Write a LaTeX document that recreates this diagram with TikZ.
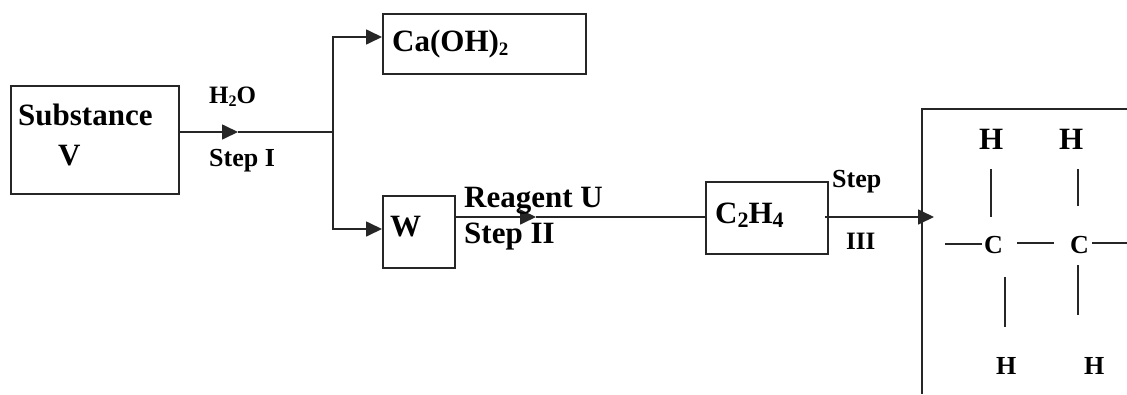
\documentclass[tikz,border=0pt]{standalone}
\usepackage{fontspec}
\setmainfont{Liberation Serif}
\usetikzlibrary{arrows.meta}
\tikzset{
 boxn/.style={draw=black!85,line width=1.7pt,inner sep=0pt,anchor=north west},
 lab/.style={inner sep=0pt,anchor=base west,font=\bfseries},
 big/.style={lab,font=\fontsize{31}{34}\selectfont\bfseries},
 mid/.style={lab,font=\fontsize{25}{28}\selectfont\bfseries},
 sm/.style={lab,font=\fontsize{26}{28}\selectfont\bfseries},
 wire/.style={line width=1.7pt,draw=black!85},
 arr/.style={wire,-{Triangle[length=16pt,width=15pt]},shorten >=0pt},
 bond/.style={line width=1.4pt,draw=black!85}
}
\begin{document}
\begin{tikzpicture}[x=1pt,y=-1pt]
\useasboundingbox (0,0) rectangle (1127,394);
\node[boxn,minimum width=168pt,minimum height=108pt] (V) at (10,85) {};
\node[boxn,minimum width=203pt,minimum height=60pt] (Ca) at (382,13) {};
\node[boxn,minimum width=72pt,minimum height=72pt] (W) at (382,195) {};
\node[boxn,minimum width=122pt,minimum height=72pt] (E) at (705,181) {};
\draw[wire] (1127,109) coordinate (tr) -- (922,109) coordinate (tl) -- (922,394) coordinate (bl);
\coordinate (j) at (333,132);
\coordinate (m1) at (238,132);
\coordinate (t) at (333,37);
\coordinate (b) at (333,229);
\coordinate (m2) at (536,217);
\coordinate (wo) at (454,217);
\coordinate (ei) at (705,217);
\coordinate (eo) at (825,217);
\coordinate (pt) at (934,217);
\coordinate (cae) at (382,37);
\coordinate (we) at (382,229);
\draw[arr] (V.east |- m1) -- (m1);
\draw[wire] (m1) -- (j);
\draw[arr] (j) -- (t) -- (cae);
\draw[arr] (j) -- (b) -- (we);
\draw[arr] (wo) -- (m2);
\draw[wire] (m2) -- (ei);
\draw[arr] (eo) -- (pt);
\node[big] (s1) at (18,125) {Substance};
\node[big] (s2) at (58,165) {V};
\node[big] (s3) at (392,51) {Ca(OH)\raisebox{-4pt}{\fontsize{19}{20}\selectfont 2}};
\node[big] (s4) at (390,236) {W};
\node[big] (s5) at (715,223) {C\raisebox{-4pt}{\fontsize{22}{23}\selectfont 2}H\raisebox{-4pt}{\fontsize{22}{23}\selectfont 4}};
\node[mid] (h2o) at (209,103) {H\raisebox{-3pt}{\fontsize{16}{17}\selectfont 2}O};
\node[sm] (st1) at (209,166) {Step I};
\node[big] (re) at (464,207) {Reagent U};
\node[big] (st2) at (464,243) {Step II};
\node[sm] (st3a) at (832,187) {Step};
\node[mid] (st3b) at (846,249) {III};
\node[big] (h1) at (979,149) {H};
\node[big] (h2) at (1059,149) {H};
\node[sm] (c1) at (984,253) {C};
\node[sm] (c2) at (1070,253) {C};
\node[sm] (h3) at (996,374) {H};
\node[sm] (h4) at (1084,374) {H};
\draw[bond] (991,169) -- (991,217);
\draw[bond] (1078,169) -- (1078,206);
\draw[bond] (945,244) -- (982,244);
\draw[bond] (1017,243) -- (1054,243);
\draw[bond] (1092,243) -- (1127,243);
\draw[bond] (1005,277) -- (1005,327);
\draw[bond] (1078,265) -- (1078,315);
\end{tikzpicture}
\end{document}
